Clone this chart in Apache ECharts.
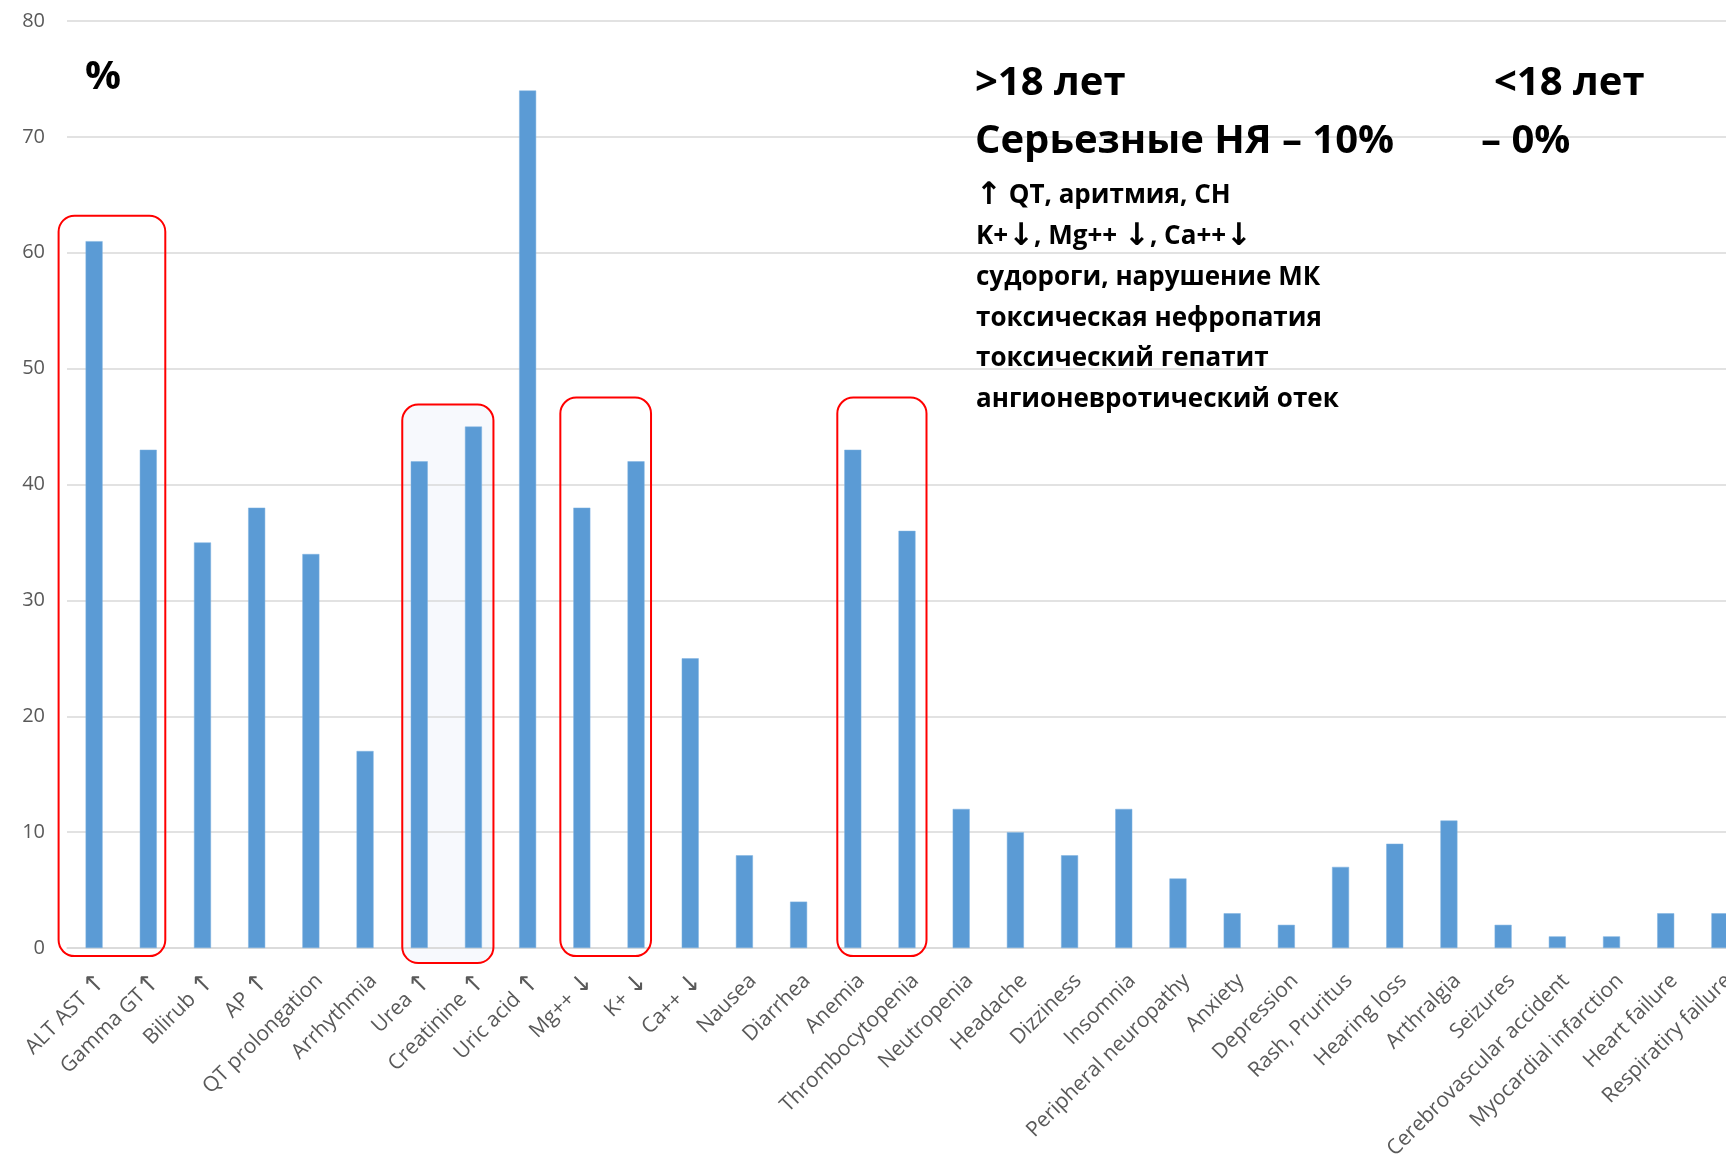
<!DOCTYPE html>
<html>
<head>
<meta charset="utf-8">
<script src="https://cdn.jsdelivr.net/npm/echarts@6/dist/echarts.min.js"></script>
<style>
html,body{margin:0;padding:0;background:#fff;}
#chart{width:1726px;height:1154px;}
</style>
</head>
<body>
<div id="chart"></div>
<script>
// ---- data ----
const categories = [
  "ALT AST ↑", "Gamma GT↑", "Bilirub ↑", "AP ↑", "QT prolongation", "Arrhythmia",
  "Urea ↑", "Creatinine ↑", "Uric acid ↑", "Mg++ ↓", "K+ ↓", "Ca++ ↓",
  "Nausea", "Diarrhea", "Anemia", "Thrombocytopenia", "Neutropenia", "Headache",
  "Dizziness", "Insomnia", "Peripheral neuropathy", "Anxiety", "Depression",
  "Rash, Pruritus", "Hearing loss", "Arthralgia", "Seizures",
  "Cerebrovascular accident", "Myocardial infarction", "Heart failure", "Respiratiry failure"
];
const values = [
  61, 43, 35, 38, 34, 17,
  42, 45, 74, 38, 42, 25,
  8, 4, 43, 36, 12, 10,
  8, 12, 6, 3, 2,
  7, 9, 11, 2,
  1, 1, 3, 3
];
const yTicks = { min: 0, max: 80, interval: 10 };

// highlighted groups: first category, last category, top value, bottom value
const groupFirst = ["ALT AST ↑", "Urea ↑", "Mg++ ↓", "Anemia"];
const groupLast  = ["Gamma GT↑", "Creatinine ↑", "K+ ↓", "Thrombocytopenia"];
const groupTop   = [63.2, 46.9, 47.5, 47.5];
const groupBottom= [-0.7, -1.3, -0.7, -0.7];

const unitLabel = "%";
const headLeft = [">18 лет", "Серьезные НЯ – 10%"];
const headRight = ["<18 лет", "– 0%"];
const seriousList = [
  "↑ QT, аритмия, СН",
  "K+↓, Mg++ ↓, Ca++↓",
  "судороги, нарушение МК",
  "токсическая нефропатия",
  "токсический гепатит",
  "ангионевротический отек"
];

// ---- chart ----
const chart = echarts.init(document.getElementById('chart'), null, { renderer: 'canvas' });
const labelFont = '"Open Sans", "Noto Sans", sans-serif';
const arrowFont = '"DejaVu Sans", sans-serif';

// split text into runs so arrows use a font that has full-size arrow glyphs
function richify(str, normalKey, arrowKey) {
  let out = '';
  let buf = '';
  for (const ch of str) {
    if (ch === '↑' || ch === '↓') {
      if (buf) { out += '{' + normalKey + '|' + buf + '}'; buf = ''; }
      out += '{' + arrowKey + '|' + ch + '}';
    } else buf += ch;
  }
  if (buf) out += '{' + normalKey + '|' + buf + '}';
  return out;
}

chart.setOption({
  animation: false,
  backgroundColor: '#ffffff',
  grid: { left: 67, right: -21, top: 21, bottom: 206, outerBoundsMode: 'none', containLabel: false },
  xAxis: {
    type: 'category',
    data: categories,
    axisTick: { show: false },
    axisLine: { lineStyle: { color: '#D9D9D9', width: 1.5 } },
    axisLabel: {
      interval: 0, rotate: 45, margin: 21,
      align: 'right', verticalAlign: 'top',
      color: '#595959', fontSize: 21, fontFamily: labelFont,
      formatter: v => richify(v, 'n', 'a'),
      rich: {
        n: { color: '#595959', fontSize: 21, lineHeight: 24, fontFamily: labelFont },
        a: { color: '#595959', fontSize: 25, lineHeight: 24, fontFamily: arrowFont }
      }
    }
  },
  yAxis: {
    type: 'value',
    min: yTicks.min, max: yTicks.max, interval: yTicks.interval,
    axisLine: { show: false }, axisTick: { show: false },
    axisLabel: { color: '#595959', fontSize: 20, fontFamily: labelFont, margin: 22 },
    splitLine: { lineStyle: { color: '#D9D9D9', width: 1.5 } }
  },
  series: [{
    type: 'bar',
    data: values,
    barWidth: 17,
    itemStyle: { color: '#5B9BD5', borderColor: '#7FB2E0', borderWidth: 0.5 },
    z: 3
  }]
});

function buildGraphics() {
  const els = [];
  const padL = [-35.5, -17, -21.5, -15.5];
  const padR = [17, 20, 15, 19.5];
  const fills = ['rgba(0,0,0,0)', '#F7F9FD', 'rgba(0,0,0,0)', 'rgba(0,0,0,0)'];
  for (let i = 0; i < groupFirst.length; i++) {
    const a = chart.convertToPixel({ gridIndex: 0 }, [groupFirst[i], groupTop[i]]);
    const b = chart.convertToPixel({ gridIndex: 0 }, [groupLast[i], groupBottom[i]]);
    const x0 = a[0] + padL[i], x1 = b[0] + padR[i];
    els.push({
      type: 'rect', z: -1, silent: true,
      shape: { x: x0, y: a[1], width: x1 - x0, height: b[1] - a[1], r: 16 },
      style: { fill: fills[i], stroke: 'none' }
    });
    els.push({
      type: 'rect', z: 10, silent: true,
      shape: { x: x0, y: a[1], width: x1 - x0, height: b[1] - a[1], r: 16 },
      style: { fill: 'none', stroke: '#FF0000', lineWidth: 2 }
    });
  }
  const boldFont = '"Open Sans", "Noto Sans", sans-serif';
  function txt(x, y, t, size) {
    return {
      type: 'text', z: 10, silent: true,
      style: {
        x: x, y: y, text: richify(t, 'n', 'a'), verticalAlign: 'top',
        rich: {
          n: { fill: '#000', fontSize: size, lineHeight: size, fontWeight: 'bold', fontFamily: boldFont },
          a: { fill: '#000', fontSize: Math.round(size * 1.2), lineHeight: size, fontWeight: 'bold', fontFamily: arrowFont }
        }
      }
    };
  }
  els.push(txt(85, 58, unitLabel, 40));
  const headTop = [64, 122];
  headLeft.forEach((t, i) => els.push(txt(975, headTop[i], t, 40)));
  const rightX = [1494, 1481];
  headRight.forEach((t, i) => els.push(txt(rightX[i], headTop[i], t, 40)));
  seriousList.forEach((t, i) => els.push(txt(976, 183 + 40.7 * i, t, 26)));
  chart.setOption({ graphic: { elements: els } });
}
buildGraphics();
</script>
</body>
</html>
